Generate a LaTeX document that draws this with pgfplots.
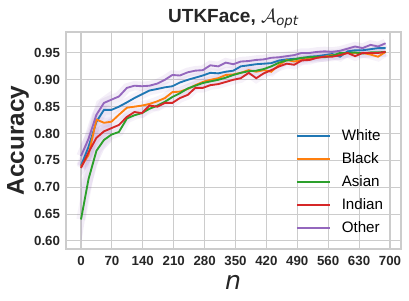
\documentclass[border=0pt]{standalone}
\usepackage{pgfplots}
\pgfplotsset{compat=1.18}
\usepackage{fontspec}
\setmainfont{Liberation Sans}
\newfontfamily\dejavu{DejaVu Sans}
\definecolor{tabblue}{HTML}{1F77B4}
\definecolor{taborange}{HTML}{FF7F0E}
\definecolor{tabgreen}{HTML}{2CA02C}
\definecolor{tabred}{HTML}{D62728}
\definecolor{tabpurple}{HTML}{9467BD}
\definecolor{gridgray}{HTML}{CCCCCC}
\definecolor{textgray}{HTML}{262626}

\pgfplotstableread{
n white black asian indian other
0 0.740 0.738 0.640 0.736 0.758
17 0.775 0.760 0.715 0.765 0.790
35 0.822 0.826 0.768 0.792 0.835
52 0.844 0.820 0.788 0.804 0.857
69 0.844 0.822 0.798 0.810 0.863
86 0.850 0.835 0.803 0.816 0.869
104 0.858 0.848 0.828 0.831 0.885
121 0.866 0.850 0.834 0.840 0.889
138 0.873 0.852 0.838 0.838 0.888
155 0.880 0.855 0.846 0.852 0.889
173 0.883 0.860 0.852 0.850 0.893
190 0.886 0.866 0.859 0.857 0.900
207 0.888 0.877 0.868 0.857 0.909
224 0.895 0.878 0.875 0.866 0.908
242 0.900 0.883 0.884 0.872 0.914
259 0.904 0.890 0.889 0.885 0.917
276 0.908 0.896 0.894 0.885 0.918
293 0.913 0.900 0.897 0.890 0.927
311 0.912 0.903 0.900 0.892 0.925
328 0.915 0.909 0.904 0.896 0.932
345 0.917 0.910 0.909 0.900 0.929
362 0.925 0.913 0.913 0.903 0.934
380 0.927 0.918 0.916 0.913 0.935
397 0.929 0.915 0.917 0.903 0.937
414 0.930 0.918 0.920 0.912 0.938
431 0.931 0.915 0.925 0.918 0.941
449 0.936 0.928 0.932 0.925 0.942
466 0.938 0.937 0.936 0.930 0.944
483 0.939 0.934 0.938 0.928 0.946
500 0.940 0.937 0.941 0.936 0.950
518 0.943 0.940 0.942 0.937 0.950
535 0.944 0.941 0.943 0.941 0.952
552 0.946 0.943 0.942 0.943 0.953
569 0.948 0.946 0.945 0.943 0.952
587 0.943 0.946 0.950 0.946 0.954
604 0.953 0.950 0.950 0.950 0.958
621 0.955 0.950 0.951 0.944 0.962
638 0.955 0.950 0.949 0.950 0.959
656 0.957 0.947 0.951 0.950 0.965
673 0.959 0.943 0.951 0.950 0.962
690 0.959 0.952 0.952 0.952 0.968
}\acc

\begin{document}
\begin{tikzpicture}
\begin{axis}[
  scale only axis,
  width=251.25bp, height=162.75bp,
  xmin=-34, xmax=725, ymin=0.585, ymax=0.989,
  xtick={0,70,...,700},
  ytick={0.60,0.65,0.70,0.75,0.80,0.85,0.90,0.95},
  y tick label style={/pgf/number format/fixed, /pgf/number format/fixed zerofill, /pgf/number format/precision=2},
  /pgf/number format/assume math mode=true,
  ticklabel style={font=\fontsize{10}{12}\selectfont\bfseries, text=textgray},
  major tick length=0pt,
  grid=major,
  major grid style={gridgray, line width=0.8pt},
  axis line style={gridgray, line width=0.8pt},
  xticklabel style={yshift=-2bp},
  yticklabel style={xshift=-1bp},
  ylabel={Accuracy},
  ylabel style={font=\fontsize{18.3}{21}\selectfont\bfseries, at={(axis description cs:-0.143,0.5)}, anchor=center, text=textgray},
  xlabel={\dejavu\itshape n},
  xlabel style={font=\fontsize{19}{22}\selectfont, at={(axis description cs:0.499,-0.152)}, anchor=center, text=textgray},
  title={UTKFace, $\mathcal{A}_{\mbox{\fontsize{10}{12}\selectfont\mdseries\dejavu\itshape opt}}$},
  every axis title shift=0pt,
  title style={font=\fontsize{14.3}{17}\selectfont\bfseries, at={(axis description cs:0.5,1.045)}, anchor=base, yshift=0pt, text=textgray},
  legend style={draw=none, fill=none, at={(axis description cs:0.967,0.04)}, anchor=south east,
    font=\fontsize{11.4}{13}\selectfont, row sep=3.5bp},
  legend cell align=left,
  legend image code/.code={\draw[#1, line width=1.5bp] (0bp,0bp) -- (25bp,0bp); \path (31bp,0bp);},
  every axis plot/.append style={line width=1.4bp},
]
% confidence bands
\addplot[fill=tabpurple, fill opacity=0.12, draw=none, forget plot] coordinates {
  (0,0.595) (17,0.68) (35,0.74) (52,0.77) (69,0.785) (69,0.83) (52,0.82) (35,0.81) (17,0.77) (0,0.705)};
\addplot[fill=tabpurple, fill opacity=0.10, draw=none, forget plot] coordinates {
  (0,0.72) (17,0.74) (35,0.78) (52,0.80) (69,0.80) (69,0.88) (52,0.87) (35,0.86) (17,0.81) (0,0.78)};
\addplot[tabpurple, opacity=0.10, line width=7bp, forget plot] table[x=n, y=other] {\acc};
\addplot[tabpurple, opacity=0.08, line width=7bp, forget plot] table[x=n, y=white] {\acc};
\addplot[tabpurple, opacity=0.08, line width=7bp, forget plot] table[x=n, y=black] {\acc};
\addplot[tabpurple, opacity=0.08, line width=7bp, forget plot] table[x=n, y=asian] {\acc};
\addplot[tabpurple, opacity=0.08, line width=7bp, forget plot] table[x=n, y=indian] {\acc};
% lines
\addplot[color=tabblue] table[x=n, y=white] {\acc};
\addlegendentry{White}
\addplot[color=taborange] table[x=n, y=black] {\acc};
\addlegendentry{Black}
\addplot[color=tabgreen] table[x=n, y=asian] {\acc};
\addlegendentry{Asian}
\addplot[color=tabred] table[x=n, y=indian] {\acc};
\addlegendentry{Indian}
\addplot[color=tabpurple] table[x=n, y=other] {\acc};
\addlegendentry{Other}
\end{axis}
\pgfresetboundingbox
\path ([shift={(-49.5bp,-39bp)}]current axis.south west) rectangle ([shift={(6bp,24bp)}]current axis.north east);
\end{tikzpicture}
\end{document}
